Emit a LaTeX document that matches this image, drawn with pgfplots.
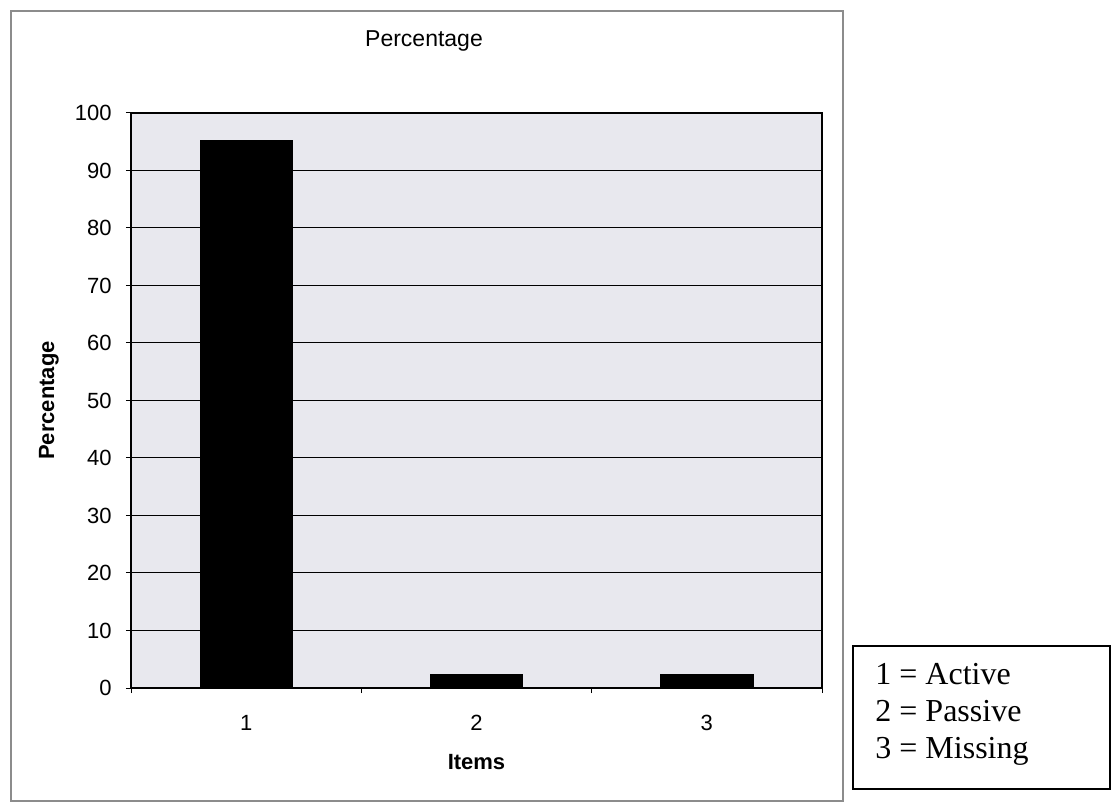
\documentclass[border=0pt]{standalone}
\usepackage{pgfplots}
\pgfplotsset{compat=1.18}
\usepackage{fontspec}
\setmainfont{Liberation Sans}
\newfontfamily\timesfont{Liberation Serif}
\definecolor{plotbg}{RGB}{232,232,238}

\begin{document}
\begin{tikzpicture}
  \useasboundingbox (0,0) rectangle (556bp,401bp);
  % chart area frame
  \draw[black!45, line width=0.6bp] (5.5bp,0.5bp) rectangle (421.5bp,395.5bp);
  % chart title
  \node[font=\fontsize{11.5bp}{13bp}\selectfont] at (212bp,380.5bp) {Percentage};

  \begin{axis}[
    at={(65.5bp,57bp)}, anchor=south west,
    scale only axis,
    width=345.5bp, height=287.5bp,
    xmin=0.5, xmax=3.5,
    ymin=0, ymax=100,
    ytick={0,10,...,100},
    xtick={0.5,1.5,2.5,3.5},
    x tick label as interval,
    xticklabels={1,2,3,},
    xtick pos=lower, ytick pos=left,
    tick align=outside,
    major tick length=2.5bp,
    ymajorgrids,
    grid style={black, line width=0.5bp},
    axis line style={line width=0.8bp},
    tick style={black, line width=0.5bp},
    axis background/.style={fill=plotbg},
    /pgf/number format/assume math mode=true,
    tick label style={font=\fontsize{11bp}{13bp}\selectfont},
    yticklabel style={anchor=east, inner sep=0pt, xshift=-7bp},
    xticklabel style={anchor=center, inner sep=0pt, yshift=-15bp},
    xlabel={\bfseries Items},
    xlabel style={font=\fontsize{11bp}{13bp}\selectfont, at={(axis description cs:0.5,-0.129)}, anchor=center},
    ylabel={\bfseries Percentage},
    ylabel style={font=\fontsize{11bp}{13bp}\selectfont, at={(axis description cs:-0.119,0.5)}, anchor=center},
  ]
    \addplot[ybar, bar width=0.4, fill=black, draw=black] coordinates {
      (1, 95.2)
      (2, 2.4)
      (3, 2.4)
    };
  \end{axis}

  % key box
  \draw[black, line width=1.2bp] (426.5bp,6.5bp) rectangle (555bp,78bp);
  \begin{scope}[every node/.style={anchor=base west, inner sep=0pt,
      font=\timesfont\fontsize{16bp}{18bp}\selectfont}]
    \node at (437.5bp,58.5bp) {1 = Active};
    \node at (437.5bp,40bp) {2 = Passive};
    \node at (437.5bp,22bp) {3 = Missing};
  \end{scope}
\end{tikzpicture}
\end{document}
